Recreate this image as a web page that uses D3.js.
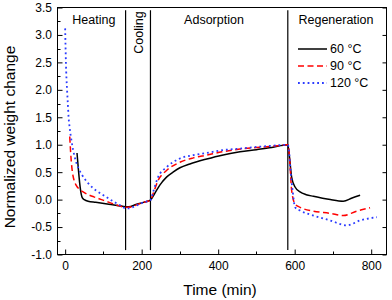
<!DOCTYPE html>
<html>
<head>
<meta charset="utf-8">
<script src="https://cdn.jsdelivr.net/npm/d3@7"></script>
<style>
  body { margin: 0; background: #fff; }
  svg { display: block; font-family: "Liberation Sans", Arial, sans-serif; }
</style>
</head>
<body>
<svg id="chart"></svg>
<script>
// data (time in min, normalized weight change)
const t60 = [31, 34, 38, 42, 45, 50, 60, 80, 110, 140, 158, 166, 185, 205, 223,
  234, 247, 265, 282, 300, 326, 370, 410, 457, 500, 540, 582,
  586, 592, 601, 614, 630, 649, 670, 693, 727, 750, 771];
const v60 = [0.85, 0.6, 0.3, 0.1, 0.03, 0.0, -0.03, -0.05, -0.08, -0.11, -0.13, -0.13, -0.09, -0.05, -0.01,
  0.11, 0.26, 0.41, 0.5, 0.58, 0.65, 0.74, 0.81, 0.87, 0.91, 0.95, 1.0,
  0.8, 0.41, 0.23, 0.14, 0.09, 0.06, 0.03, 0.0, -0.03, 0.03, 0.08];

const t90 = [12, 14, 16, 19, 23, 29, 37, 47, 60, 75, 95, 115, 140, 158, 166, 185, 205, 223,
  230, 243, 265, 300, 335, 370, 410, 457, 500, 540, 582,
  585, 588, 592, 601, 614, 649, 693, 727, 762, 797];
const v90 = [1.15, 0.9, 0.7, 0.5, 0.36, 0.26, 0.19, 0.14, 0.09, 0.05, 0.0, -0.05, -0.11, -0.14, -0.14, -0.1, -0.05, -0.01,
  0.11, 0.35, 0.53, 0.68, 0.76, 0.81, 0.87, 0.92, 0.95, 0.97, 1.0,
  0.9, 0.6, 0.17, -0.08, -0.14, -0.21, -0.25, -0.29, -0.21, -0.15];

const t120 = [0, 1, 2, 3.5, 5, 7, 9, 12, 16, 21, 28, 35, 45, 60, 80, 100, 125, 145, 158, 166, 185, 205, 223,
  230, 243, 265, 300, 335, 370, 410, 457, 500, 540, 582,
  585, 589, 595, 601, 614, 649, 693, 736, 771, 815];
const v120 = [3.12, 2.8, 2.5, 2.2, 2.0, 1.75, 1.5, 1.3, 1.1, 0.9, 0.7, 0.57, 0.44, 0.3, 0.17, 0.08, -0.03, -0.11, -0.16, -0.16, -0.11, -0.05, -0.01,
  0.14, 0.41, 0.59, 0.75, 0.81, 0.85, 0.9, 0.93, 0.96, 0.98, 1.0,
  0.9, 0.55, 0.14, -0.14, -0.2, -0.29, -0.38, -0.47, -0.38, -0.32];

const seriesNames = ['60 °C', '90 °C', '120 °C'];
const seriesColors = ['#000000', '#ff0000', '#2b3bff'];
const seriesDash = [null, '6,3.5', '1.8,3'];

const phaseBounds = [158, 223, 582];
const phaseNames = ['Heating', 'Cooling', 'Adsorption', 'Regeneration'];
const phaseCenters = [75, 192, 389, 708];

const size = {w: 392, h: 300};
const plot = {l: 57.5, r: 386.5, t: 7.5, b: 254.5};

const svg = d3.select('svg#chart')
    .attr('width', size.w)
    .attr('height', size.h);

const x = d3.scaleLinear().domain([-20, 840]).range([plot.l, plot.r]);
const y = d3.scaleLinear().domain([-1, 3.5]).range([plot.b, plot.t]);

const series = [
  d3.zip(t60, v60),
  d3.zip(t90, v90),
  d3.zip(t120, v120)
];

// minor ticks
const gMinor = svg.append('g').attr('stroke', '#000').attr('stroke-width', 1);
gMinor.selectAll('line.mx')
    .data(d3.range(100, 801, 200))
    .join('line')
    .attr('x1', d => Math.round(x(d)) + 0.5).attr('x2', d => Math.round(x(d)) + 0.5)
    .attr('y1', plot.b).attr('y2', plot.b - 3);
gMinor.selectAll('line.my')
    .data(d3.range(-0.75, 3.5, 0.5))
    .join('line')
    .attr('x1', plot.l).attr('x2', plot.l + 3)
    .attr('y1', d => Math.round(y(d)) + 0.5).attr('y2', d => Math.round(y(d)) + 0.5);

// axes
const xAxis = svg.append('g')
    .attr('transform', `translate(0, ${plot.b})`)
    .call(d3.axisBottom(x).tickValues(d3.range(0, 801, 200)).tickSize(-5).tickPadding(7));

const yAxis = svg.append('g')
    .attr('transform', `translate(${plot.l}, 0)`)
    .call(d3.axisLeft(y).tickValues(d3.range(-1, 3.51, 0.5)).tickSize(-5).tickPadding(5.5)
      .tickFormat(d => d.toFixed(1)));

const yRight = svg.append('g')
    .attr('transform', `translate(${plot.r}, 0)`)
    .call(d3.axisRight(y).tickValues(d3.range(-1, 3.51, 0.5)).tickSize(-4).tickFormat(''));

[xAxis, yAxis, yRight].forEach(g => {
  g.select('.domain').remove();
  g.selectAll('text').attr('font-size', 12).attr('font-family', '"Liberation Sans", Arial, sans-serif').attr('fill', '#000');
});

// frame
svg.append('rect')
    .attr('x', plot.l).attr('y', plot.t)
    .attr('width', plot.r - plot.l).attr('height', plot.b - plot.t)
    .attr('fill', 'none').attr('stroke', '#000').attr('stroke-width', 1);

// phase separators
svg.selectAll('line.phase')
    .data(phaseBounds)
    .join('line')
    .attr('x1', d => x(d)).attr('x2', d => x(d))
    .attr('y1', y(3.45)).attr('y2', y(-0.92))
    .attr('stroke', '#000').attr('stroke-width', 1.2);

svg.selectAll('text.phase')
    .data(phaseNames)
    .join('text')
    .attr('font-size', 12.5)
    .attr('text-anchor', 'middle')
    .attr('transform', (d, i) => i === 1
        ? `translate(${x(phaseCenters[i]) + 4}, ${plot.t + 25}) rotate(-90)`
        : `translate(${x(phaseCenters[i])}, 24)`)
    .text(d => d);

// curves
const line = d3.line()
    .x(d => x(d[0]))
    .y(d => y(d[1]))
    .curve(d3.curveMonotoneX);

svg.append('g')
    .selectAll('path')
    .data(series)
    .join('path')
    .attr('d', line)
    .attr('fill', 'none')
    .attr('stroke', (d, i) => seriesColors[i])
    .attr('stroke-width', (d, i) => i === 2 ? 1.8 : 1.5)
    .attr('stroke-dasharray', (d, i) => seriesDash[i]);

// legend
const legend = svg.append('g');
const rows = legend.selectAll('g')
    .data(seriesNames)
    .join('g')
    .attr('transform', (d, i) => `translate(298, ${49 + i * 17})`);
rows.append('line')
    .attr('x1', 0).attr('x2', 29)
    .attr('stroke', (d, i) => seriesColors[i])
    .attr('stroke-width', (d, i) => i === 2 ? 1.8 : 1.5)
    .attr('stroke-dasharray', (d, i) => seriesDash[i]);
rows.append('text')
    .attr('x', 32).attr('dy', '0.35em')
    .attr('font-size', 12.5)
    .text(d => d);

// axis titles
svg.append('text')
    .attr('x', 220).attr('y', 295)
    .attr('text-anchor', 'middle')
    .attr('font-size', 15.5)
    .text('Time (min)');

svg.append('text')
    .attr('transform', `translate(15, ${(plot.t + plot.b) / 2 + 6}) rotate(-90)`)
    .attr('text-anchor', 'middle')
    .attr('font-size', 15.5)
    .text('Normalized weight change');
</script>
</body>
</html>
